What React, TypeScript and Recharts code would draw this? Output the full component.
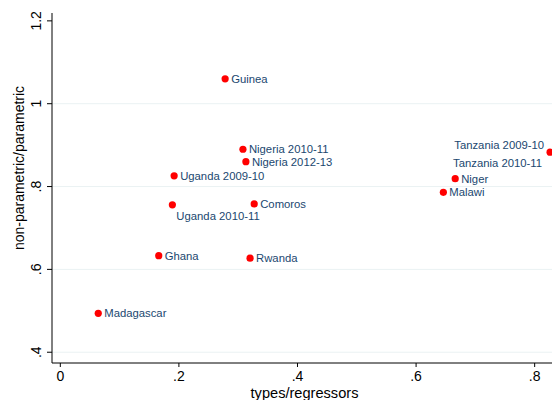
import { ScatterChart, Scatter, XAxis, YAxis, CartesianGrid } from 'recharts';

const countries = [
  'Madagascar', 'Ghana', 'Uganda 2010-11', 'Uganda 2009-10', 'Guinea',
  'Nigeria 2010-11', 'Nigeria 2012-13', 'Rwanda', 'Comoros', 'Malawi',
  'Niger', 'Tanzania 2009-10', 'Tanzania 2010-11',
];
const typesRegressors = [0.064, 0.166, 0.189, 0.192, 0.278, 0.308, 0.313, 0.32, 0.327, 0.646, 0.666, 0.826, 0.836];
const ratio = [0.494, 0.633, 0.756, 0.826, 1.06, 0.89, 0.86, 0.627, 0.758, 0.786, 0.819, 0.883, 0.858];

const xTicks = [0, 0.2, 0.4, 0.6, 0.8];
const yTicks = [0.4, 0.6, 0.8, 1, 1.2];

const points = countries.map((name, i) => ({ name, x: typesRegressors[i], y: ratio[i] }));

// where each marker label sits relative to its dot (Stata-like clock positions)
const labelPos: Record<string, string> = {
  'Uganda 2010-11': 'below',
  'Tanzania 2009-10': 'upleft',
  'Tanzania 2010-11': 'left',
};

const FONT = '"Liberation Sans", Arial, Helvetica, sans-serif';
const fmt = (v: number) => (v === 0 ? '0' : String(v).replace(/^0\./, '.'));

function Marker(props: any) {
  const { cx, cy, payload } = props;
  const pos = labelPos[payload.name] || 'right';
  let tx = cx + 6, ty = cy + 4, anchor: any = 'start';
  if (pos === 'below') { tx = cx + 4; ty = cy + 15; }
  if (pos === 'upleft') { tx = cx - 6; ty = cy - 3.5; anchor = 'end'; }
  if (pos === 'left') { tx = cx - 14; ty = cy + 4; anchor = 'end'; }
  return (
    <g>
      <circle cx={cx} cy={cy} r={3.6} fill="#ff0000" />
      <text x={tx} y={ty} textAnchor={anchor} fontSize={11.3} fill="#1a476f" fontFamily={FONT}>
        {payload.name}
      </text>
    </g>
  );
}

function XTick({ x, y, payload }: any) {
  return (
    <text x={x} y={y + 12} textAnchor="middle" fontSize={14} fill="#000" fontFamily={FONT}>
      {fmt(payload.value)}
    </text>
  );
}

function YTick({ y, payload }: any) {
  return (
    <text x={41} y={y} transform={`rotate(-90 41 ${y})`} textAnchor="middle" fontSize={14} fill="#000" fontFamily={FONT}>
      {fmt(payload.value)}
    </text>
  );
}

export default function App() {
  return (
    <div style={{ position: 'absolute', left: 0, top: 0, width: 552, height: 400, overflow: 'hidden', background: '#fff' }}>
      <ScatterChart width={600} height={400} margin={{ top: 13, right: 24, bottom: 0, left: 0 }}>
        <CartesianGrid vertical={false} stroke="#eaf2f3" horizontalValues={[0.4, 0.6, 0.8, 1]} />
        <XAxis
          type="number"
          dataKey="x"
          domain={[-0.014, 0.8697]}
          ticks={xTicks}
          height={37}
          stroke="#000"
          tickSize={4}
          tick={<XTick />}
          allowDataOverflow
          label={{
            content: () => (
              <text x={304.5} y={397.5} textAnchor="middle" fontSize={14.6} fill="#000" fontFamily={FONT}>
                types/regressors
              </text>
            ),
          }}
        />
        <YAxis
          type="number"
          dataKey="y"
          domain={[0.374, 1.219]}
          ticks={yTicks}
          width={52}
          stroke="#000"
          tickSize={5}
          tick={<YTick />}
          allowDataOverflow
          label={{
            content: () => (
              <text x={24} y={168} transform="rotate(-90 24 168)" textAnchor="middle" fontSize={14} fill="#000" fontFamily={FONT}>
                non-parametric/parametric
              </text>
            ),
          }}
        />
        <Scatter data={points} shape={<Marker />} isAnimationActive={false} />
      </ScatterChart>
    </div>
  );
}
